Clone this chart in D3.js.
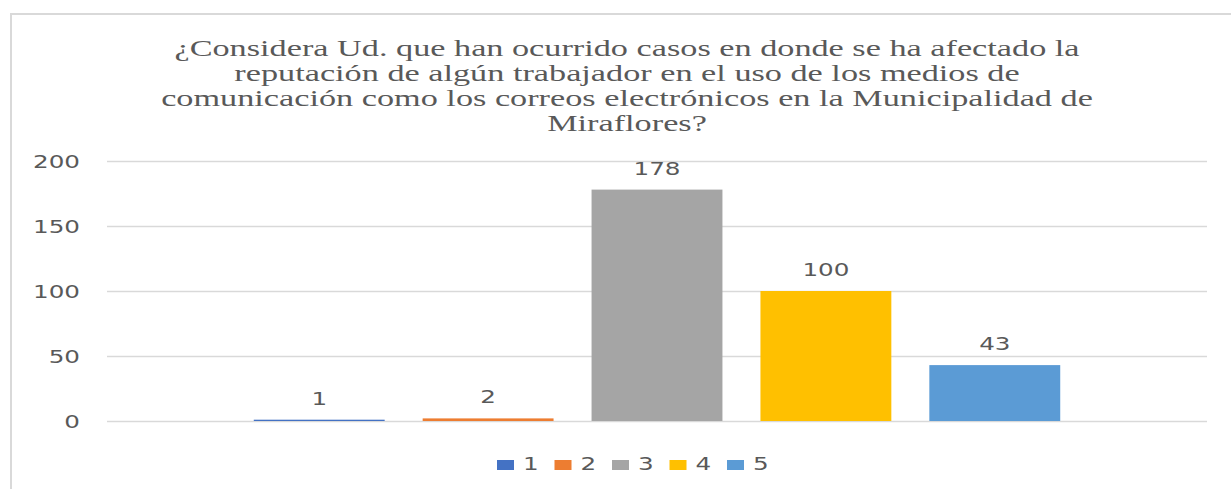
<!DOCTYPE html>
<html><head><meta charset="utf-8">
<script src="https://cdn.jsdelivr.net/npm/d3@7"></script>
<style>body{margin:0;background:#fff;overflow:hidden}</style></head>
<body><svg id="c" width="1231" height="489"></svg>
<script>
const titleLines = [
  "¿Considera Ud. que han ocurrido casos en donde se ha afectado la",
  "reputación de algún trabajador en el uso de los medios de",
  "comunicación como los correos electrónicos en la Municipalidad de",
  "Miraflores?"
];
const categories = ["1", "2", "3", "4", "5"];
const values = [1, 2, 178, 100, 43];
const colors = ["#4472C4", "#ED7D31", "#A5A5A5", "#FFC000", "#5B9BD5"];
const yTicks = [0, 50, 100, 150, 200];

const svg = d3.select("#c");
const plot = {left: 107, right: 1207, top: 161, bottom: 421};
const sansFont = "DejaVu Sans";
const serifFont = "Liberation Serif";
const textColor = "#595959";

// chart frame
svg.append("rect").attr("x", 11).attr("y", 14).attr("width", 1240).attr("height", 500)
  .attr("fill", "#fff").attr("stroke", "#d9d9d9").attr("stroke-width", 2);

function measure(str, font, size) {
  const t = svg.append("text").attr("font-family", font).attr("font-size", size).text(str);
  const w = t.node().getComputedTextLength();
  t.remove();
  return w;
}
const labelSize = 18;
const sxLabel = 47 / measure("200", sansFont, labelSize);
const titleSize = 24;
const sxTitle = 932 / measure(titleLines[2], serifFont, titleSize);

// title
const titleG = svg.append("g");
titleLines.forEach((line, i) => {
  titleG.append("text")
    .attr("transform", `translate(627,${56 + i * 25}) scale(${sxTitle},1)`)
    .attr("text-anchor", "middle").attr("font-family", serifFont)
    .attr("font-size", titleSize).attr("fill", textColor).text(line);
});

const y = d3.scaleLinear().domain([0, 200]).range([plot.bottom, plot.top]);
const x0 = d3.scaleBand().domain(["g"]).range([plot.left, plot.right]).paddingOuter(0.182).paddingInner(0);
const x1 = d3.scaleBand().domain(categories).range([0, x0.bandwidth()]).paddingInner(0.225).paddingOuter(0);

// grid + y axis
const ax = svg.append("g").attr("transform", `translate(${plot.left},0)`)
  .call(d3.axisLeft(y).tickValues(yTicks).tickSize(-(plot.right - plot.left)).tickPadding(0));
ax.select(".domain").remove();
ax.selectAll(".tick line").attr("stroke", "#d9d9d9").attr("stroke-width", 1.5);
ax.selectAll(".tick text")
  .attr("x", null).attr("dy", null)
  .attr("transform", `translate(-27,6.5) scale(${sxLabel},1)`)
  .attr("text-anchor", "end")
  .attr("font-family", sansFont).attr("font-size", labelSize).attr("fill", textColor);

// bars
const g = svg.append("g").attr("transform", `translate(${x0("g")},0)`);
g.selectAll("rect.bar").data(categories).join("rect").attr("class", "bar")
  .attr("x", d => x1(d)).attr("width", x1.bandwidth())
  .attr("y", (d, i) => y(values[i])).attr("height", (d, i) => y(0) - y(values[i]))
  .attr("fill", (d, i) => colors[i]);

g.selectAll("text.lbl").data(categories).join("text").attr("class", "lbl")
  .attr("transform", (d, i) => `translate(${x1(d) + x1.bandwidth() / 2},${y(values[i]) - 15}) scale(${sxLabel},1)`)
  .attr("text-anchor", "middle").attr("font-family", sansFont).attr("font-size", labelSize)
  .attr("fill", textColor).text((d, i) => values[i]);

// legend
const legendStart = 497, legendStep = 57.5;
const lg = svg.append("g");
categories.forEach((c, i) => {
  const lx = legendStart + i * legendStep;
  lg.append("rect").attr("x", lx).attr("y", 460).attr("width", 17).attr("height", 10).attr("fill", colors[i]);
  lg.append("text").attr("transform", `translate(${lx + 26},470) scale(${sxLabel},1)`)
    .attr("font-family", sansFont).attr("font-size", labelSize).attr("fill", textColor).text(c);
});
</script></body></html>
